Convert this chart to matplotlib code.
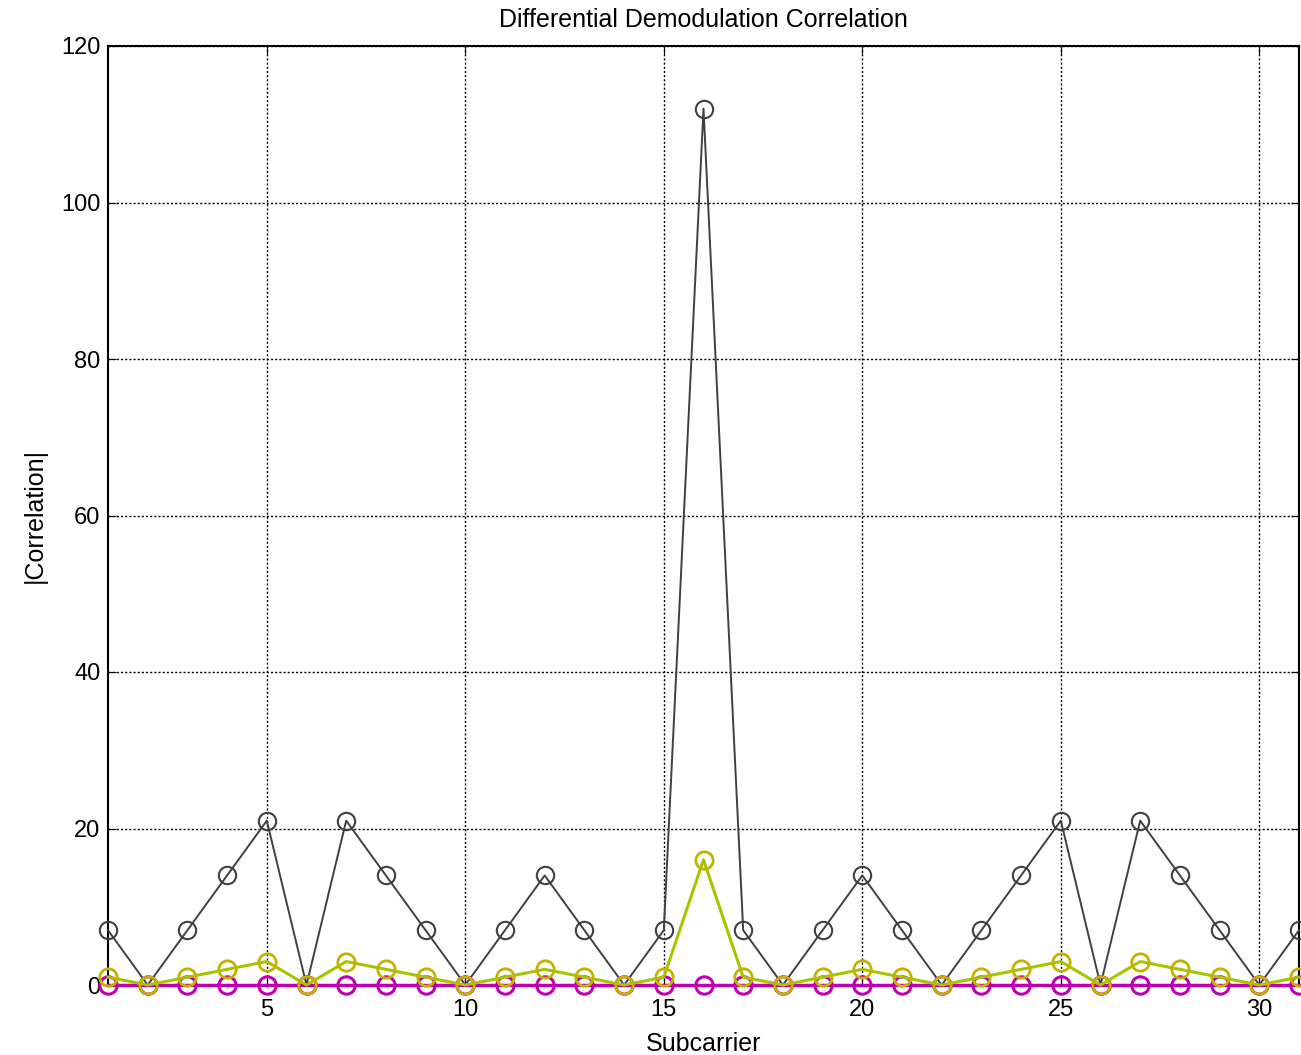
import matplotlib
matplotlib.use("Agg")
import matplotlib.pyplot as plt

plt.rcParams['font.family'] = ['Liberation Sans', 'DejaVu Sans']

subcarrier = list(range(1, 32))
corr_main = [7, 0, 7, 14, 21, 0, 21, 14, 7, 0, 7, 14, 7, 0, 7, 112, 7, 0, 7, 14, 7, 0, 7, 14, 21, 0, 21, 14, 7, 0, 7]
corr_mid = [1, 0, 1, 2, 3, 0, 3, 2, 1, 0, 1, 2, 1, 0, 1, 16, 1, 0, 1, 2, 1, 0, 1, 2, 3, 0, 3, 2, 1, 0, 1]
corr_zero = [0] * 31
xticks = [5, 10, 15, 20, 25, 30]
yticks = [0, 20, 40, 60, 80, 100, 120]

fig = plt.figure(figsize=(13.01, 10.55), dpi=100)
ax = fig.add_axes([108/1301, 1 - 985/1055, (1299-108)/1301, (985-46)/1055])

ax.plot(subcarrier, corr_main, '-o', color='#404040', lw=1.4, ms=12.5, mfc='none', mew=1.5, clip_on=False, zorder=4)
ax.plot(subcarrier, corr_zero, '-o', color='#c000b0', lw=2.4, ms=12.5, mfc='none', mew=2.2, clip_on=False, zorder=5)
ax.plot(subcarrier, corr_mid, '-', color='#a8c400', lw=2.2, clip_on=False, zorder=6)
ax.plot(subcarrier, corr_mid, 'o', color='#c0b400', ms=12.5, mfc='none', mew=2.0, clip_on=False, zorder=6)

ax.set_xlim(1, 31)
ax.set_ylim(0, 120)
ax.set_xticks(xticks)
ax.set_yticks(yticks)
ax.grid(True, color='black', linestyle=(0, (1.5, 1.5)), linewidth=1.0)
ax.tick_params(direction='in', length=6, labelsize=17, top=True, right=True)
ax.tick_params(axis='y', pad=5.5)
ax.tick_params(axis='x', pad=10)
for s in ax.spines.values():
    s.set_linewidth(1.5)
ax.set_xlabel('Subcarrier', fontsize=18, labelpad=8)
ax.set_ylabel('|Correlation|', fontsize=18, labelpad=10)
ax.set_title('Differential Demodulation Correlation', fontsize=18, pad=14)

fig.savefig('out.png', dpi=100)
